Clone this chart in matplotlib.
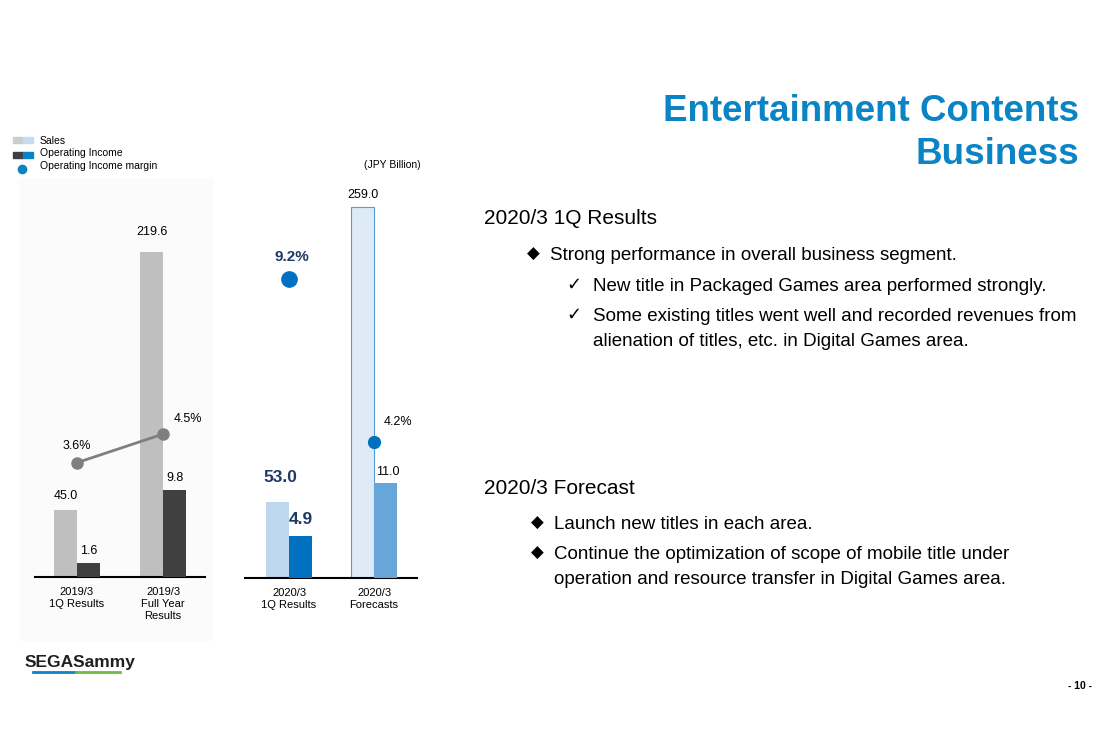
import matplotlib
matplotlib.use("Agg")
import matplotlib.pyplot as plt
from matplotlib.patches import Rectangle
from matplotlib.lines import Line2D

plt.rcParams["font.family"] = ["Liberation Sans", "DejaVu Sans"]

W, H = 1118, 741

# data (JPY Billion)
prev_labels = ["2019/3\n1Q Results", "2019/3\nFull Year\nResults"]
prev_sales = [45.0, 219.6]
prev_income = [1.6, 9.8]
prev_margin = [3.6, 4.5]

cur_labels = ["2020/3\n1Q Results", "2020/3\nForecasts"]
cur_sales = [53.0, 259.0]
cur_income = [4.9, 11.0]
cur_margin = [9.2, 4.2]

title = "Entertainment Contents\nBusiness"
results_head = "2020/3 1Q Results"
results_items = [
    ("\u25c6", "Strong performance in overall business segment."),
    ("\u2713", "New title in Packaged Games area performed strongly."),
    ("\u2713", "Some existing titles went well and recorded revenues from\nalienation of titles, etc. in Digital Games area."),
]
forecast_head = "2020/3 Forecast"
forecast_items = [
    ("\u25c6", "Launch new titles in each area."),
    ("\u25c6", "Continue the optimization of scope of mobile title under\noperation and resource transfer in Digital Games area."),
]

NAVY = "#203864"


def fx(x):
    return x / W


def fy(y):
    return 1 - y / H


fig = plt.figure(figsize=(W / 100, H / 100), dpi=100)

# faint panel background behind the left chart
fig.patches.append(Rectangle((fx(20), fy(640)), fx(192), (640 - 178) / H,
                             transform=fig.transFigure, color="#fbfbfb", zorder=-5))


def make_axes(x0, x1, base, top, xlim, ylims, labels):
    ax = fig.add_axes([fx(x0), fy(base), fx(x1 - x0), (base - top) / H])
    ax2 = ax.twinx()
    ax3 = ax.twinx()
    for a, yl in zip((ax, ax2, ax3), ylims):
        a.set_xlim(*xlim)
        a.set_ylim(0, yl)
        a.set_yticks([])
        for s in a.spines.values():
            s.set_visible(False)
        a.patch.set_visible(False)
    ax.spines["bottom"].set_visible(True)
    ax.spines["bottom"].set_linewidth(1.5)
    ax.set_xticks([0, 1], labels, fontsize=8, linespacing=1.25)
    ax.tick_params(axis="x", length=0, pad=7.5)
    return ax, ax2, ax3


def label(ax, x, y, txt, dy, dx=0, **kw):
    ax.annotate(txt, (x, y), xytext=(dx * 0.72, dy * 0.72), textcoords="offset points",
                ha="center", va="center", **kw)


# left panel: 2019/3
w = 23 / 86
ax, ax2, ax3 = make_axes(35, 205, 577, 180, (-0.488, 1.488), (268, 44.9, 12.5), prev_labels)
xs = [0, 1]
ax.bar([x - w / 2 for x in xs], prev_sales, w, color="#bfbfbf", zorder=2)
ax2.bar([x + w / 2 for x in xs], prev_income, w, color="#404040", zorder=2)
ax3.plot(xs, prev_margin, color="#7f7f7f", lw=2, marker="o", ms=8, zorder=3)
for x, v, dy in zip(xs, prev_sales, (14, 20)):
    label(ax, x - w / 2, v, f"{v:.1f}", dy, fontsize=9)
for x, v in zip(xs, prev_income):
    label(ax2, x + w / 2, v, f"{v:.1f}", 12, fontsize=9)
for x, v, dx, dy in zip(xs, prev_margin, (0, 25), (17, 15)):
    label(ax3, x, v, f"{v:.1f}%", dy, dx, fontsize=9)

# right panel: 2020/3
w = 23 / 85
ax, ax2, ax3 = make_axes(245, 417, 578, 180, (-0.518, 1.506), (278, 46.3, 12.25), cur_labels)
ax.bar(0 - w / 2, cur_sales[0], w, color="#bdd7ee", zorder=2)
ax.bar(1 - w / 2, cur_sales[1], w, color="#deebf7", edgecolor="#5b9bd5", lw=0.8, zorder=2)
ax2.bar(0 + w / 2, cur_income[0], w, color="#0070c0", zorder=2)
ax2.bar(1 + w / 2, cur_income[1], w, color="#66a6d8", zorder=2)
ax3.plot([0], [cur_margin[0]], "o", color="#0070c0", ms=11, zorder=3)
ax3.plot([1], [cur_margin[1]], "o", color="#0070c0", ms=8.5, zorder=3)
label(ax, 0 - w / 2, cur_sales[0], f"{cur_sales[0]:.1f}", 25, 3, fontsize=12.5,
      fontweight="bold", color=NAVY)
label(ax, 1 - w / 2, cur_sales[1], f"{cur_sales[1]:.1f}", 12, fontsize=9)
label(ax2, 0 + w / 2, cur_income[0], f"{cur_income[0]:.1f}", 16, fontsize=12.5,
      fontweight="bold", color=NAVY)
label(ax2, 1 + w / 2, cur_income[1], f"{cur_income[1]:.1f}", 11, 2, fontsize=9)
label(ax3, 0, cur_margin[0], f"{cur_margin[0]:.1f}%", 22, 3, fontsize=11,
      fontweight="bold", color=NAVY)
label(ax3, 1, cur_margin[1], f"{cur_margin[1]:.1f}%", 20, 24, fontsize=9)

# legend
tf = fig.transFigure
fig.patches.append(Rectangle((fx(13), fy(143)), fx(10), 6 / H, transform=tf, color="#cccccc"))
fig.patches.append(Rectangle((fx(23), fy(143)), fx(10), 6 / H, transform=tf, color="#c5dcf0"))
fig.patches.append(Rectangle((fx(13), fy(158)), fx(10), 6 / H, transform=tf, color="#404040"))
fig.patches.append(Rectangle((fx(23), fy(158)), fx(10), 6 / H, transform=tf, color="#0a84c4"))
fig.lines.append(Line2D([fx(22)], [fy(169)], marker="o", ms=6, color="#0a84c4", transform=tf))
for y, t in zip((141, 153, 166), ("Sales", "Operating Income", "Operating Income margin")):
    fig.text(fx(40), fy(y), t, fontsize=7.5, va="center")
fig.text(fx(421), fy(165), "(JPY Billion)", fontsize=7.5, va="center", ha="right")

# title and text
fig.text(fx(1079), fy(133), title, fontsize=26.5, fontweight="bold", color="#0a84c4",
         ha="right", va="center", linespacing=1.3)

fig.text(fx(484), fy(218), results_head, fontsize=15, va="center")
for (mark, txt), y in zip(results_items, (254, 285, 315)):
    if mark == "\u25c6":
        fig.text(fx(533), fy(y), mark, fontsize=12, va="center", ha="center")
        fig.text(fx(550), fy(y - 7), txt, fontsize=13.5, va="top", linespacing=1.6)
    else:
        fig.text(fx(574), fy(y), mark, fontsize=13, va="center", ha="center")
        fig.text(fx(593), fy(y - 7), txt, fontsize=13.5, va="top", linespacing=1.6)

fig.text(fx(484), fy(489), forecast_head, fontsize=15, va="center")
for (mark, txt), y in zip(forecast_items, (523, 553)):
    fig.text(fx(537), fy(y), mark, fontsize=12, va="center", ha="center")
    fig.text(fx(554), fy(y - 7), txt, fontsize=13.5, va="top", linespacing=1.65)

# logo and page number
fig.text(fx(25), fy(663), "SEGASammy", fontsize=12.5, fontweight="bold", va="center",
         color="#231f20")
fig.lines.append(Line2D([fx(33), fx(76)], [fy(672), fy(672)], color="#0a84c4", lw=2,
                        transform=tf))
fig.lines.append(Line2D([fx(76), fx(120)], [fy(672), fy(672)], color="#6cbd45", lw=2,
                        transform=tf))
fig.text(fx(1080), fy(686), "- 10 -", fontsize=7.5, fontweight="bold", ha="center", va="center")

fig.savefig("out.png", dpi=100)
